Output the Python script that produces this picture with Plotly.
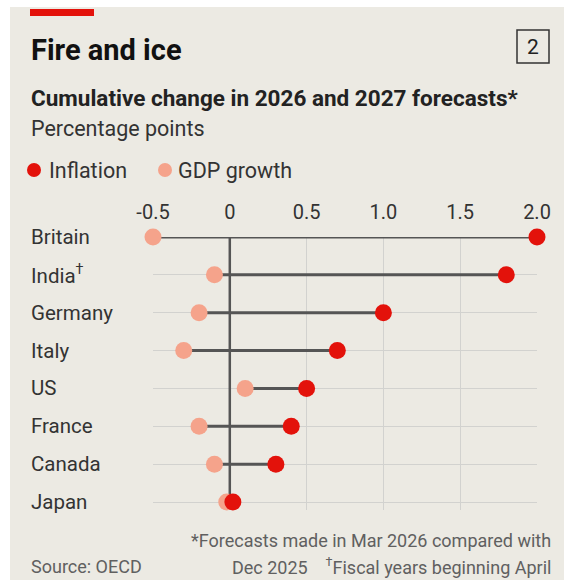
import plotly.graph_objects as go

# ---- data ----
countries = ["Britain", "India<sup>†</sup>", "Germany", "Italy", "US", "France", "Canada", "Japan"]
gdp_growth = [-0.5, -0.1, -0.2, -0.3, 0.1, -0.2, -0.1, -0.02]
inflation = [2.0, 1.8, 1.0, 0.7, 0.5, 0.4, 0.3, 0.02]
series_names = ["Inflation", "GDP growth"]
tick_vals = [-0.5, 0, 0.5, 1.0, 1.5, 2.0]
tick_text = ["-0.5", "0", "0.5", "1.0", "1.5", "2.0"]

# ---- style ----
W, H = 564, 583
ML, MR, MT, MB = 153, 27, 237, 73
PW, PH = W - ML - MR, H - MT - MB
RED = "#E3120B"
SALMON = "#F5A38B"
BG = "#ECEAE3"
FONT = "Roboto"
rows = list(range(len(countries)))


def px(x):
    return (x - ML) / PW


def py(y):
    return (H - MB - y) / PH


fig = go.Figure()

# connecting lines
lx, ly = [], []
for r, g, i in zip(rows, gdp_growth, inflation):
    lx += [g, i, None]
    ly += [r, r, None]
fig.add_trace(go.Scatter(x=lx, y=ly, mode="lines", line=dict(color="#555555", width=3),
                         hoverinfo="skip", showlegend=False, cliponaxis=False))
fig.add_trace(go.Scatter(x=gdp_growth, y=rows, mode="markers", name=series_names[1],
                         marker=dict(color=SALMON, size=17, line=dict(width=0)),
                         showlegend=False, cliponaxis=False))
fig.add_trace(go.Scatter(x=inflation, y=rows, mode="markers", name=series_names[0],
                         marker=dict(color=RED, size=17, line=dict(width=0)),
                         showlegend=False, cliponaxis=False))

shapes = [
    # panel background
    dict(type="rect", xref="paper", yref="paper", x0=px(10), x1=px(W + 5), y0=py(580), y1=py(7),
         fillcolor=BG, line=dict(width=0), layer="below"),
    # red bar
    dict(type="rect", xref="paper", yref="paper", x0=px(30), x1=px(94), y0=py(16), y1=py(9),
         fillcolor=RED, line=dict(width=0), layer="above"),
    # number box
    dict(type="rect", xref="paper", yref="paper", x0=px(517), x1=px(549), y0=py(63), y1=py(30),
         fillcolor="rgba(0,0,0,0)", line=dict(color="#333333", width=1.5), layer="above"),
    # zero line
    dict(type="line", xref="x", yref="y", x0=0, x1=0, y0=-0.24, y1=len(countries) - 1,
         line=dict(color="#555555", width=2.5), layer="between"),
]

# legend dots
leg_dots = [(34, RED), (165, SALMON)]
for (cx, col) in leg_dots:
    shapes.append(dict(type="circle", xref="paper", yref="paper", xsizemode="pixel", ysizemode="pixel",
                       xanchor=px(cx), yanchor=py(170), x0=-7, x1=7, y0=-7, y1=7,
                       fillcolor=col, line=dict(width=0), layer="above"))

annotations = [
    dict(text="<b>Fire and ice</b>", x=px(29), y=py(50), xanchor="left", yanchor="middle",
         font=dict(size=29, color="#111111", family=FONT)),
    dict(text="2", x=px(533), y=py(47), xanchor="center", yanchor="middle",
         font=dict(size=21, color="#222222", family=FONT)),
    dict(text="<b>Cumulative change in 2026 and 2027 forecasts*</b>", x=px(29), y=py(98),
         xanchor="left", yanchor="middle", font=dict(size=22.5, color="#222222", family=FONT)),
    dict(text="Percentage points", x=px(29), y=py(128), xanchor="left", yanchor="middle",
         font=dict(size=21.5, color="#333333", family=FONT)),
    dict(text=series_names[0], x=px(47), y=py(170), xanchor="left", yanchor="middle",
         font=dict(size=21.5, color="#333333", family=FONT)),
    dict(text=series_names[1], x=px(176), y=py(170), xanchor="left", yanchor="middle",
         font=dict(size=21.5, color="#333333", family=FONT)),
    dict(text="*Forecasts made in Mar 2026 compared with", x=px(553), y=py(540), xanchor="right",
         yanchor="middle", font=dict(size=18, color="#606060", family=FONT)),
    dict(text="Dec 2025    <sup>†</sup>Fiscal years beginning April", x=px(553), y=py(566),
         xanchor="right", yanchor="middle", font=dict(size=18, color="#606060", family=FONT)),
    dict(text="Source: OECD", x=px(29), y=py(566), xanchor="left", yanchor="middle",
         font=dict(size=18, color="#606060", family=FONT)),
]
for a in annotations:
    a.update(xref="paper", yref="paper", showarrow=False)

# row labels
for r, c in zip(rows, countries):
    annotations.append(dict(text=c, xref="paper", yref="y", x=px(29), y=r, xanchor="left",
                            yanchor="middle", showarrow=False,
                            font=dict(size=20.5, color="#333333", family=FONT)))

fig.update_layout(
    width=W, height=H,
    margin=dict(l=ML, r=MR, t=MT, b=MB),
    paper_bgcolor="white",
    plot_bgcolor="rgba(0,0,0,0)",
    font=dict(family=FONT),
    shapes=shapes,
    annotations=annotations,
    showlegend=False,
    xaxis=dict(range=[-0.5, 2.0], side="top", tickvals=tick_vals, ticktext=tick_text,
               showgrid=True, gridcolor="#D2D2CF", gridwidth=1, zeroline=False,
               showline=False, ticks="", ticklabelstandoff=13,
               tickfont=dict(size=20, color="#333333", family=FONT), fixedrange=True),
    yaxis=dict(range=[len(countries) - 1 + 0.21, 0], tickvals=rows, showticklabels=False,
               showgrid=True, gridcolor="#D2D2CF", gridwidth=1, zeroline=False,
               showline=False, ticks="", fixedrange=True),
)

fig.write_html("out.html", config={"displayModeBar": False},
               post_script="document.body.style.margin='0';document.body.style.overflow='hidden';")
